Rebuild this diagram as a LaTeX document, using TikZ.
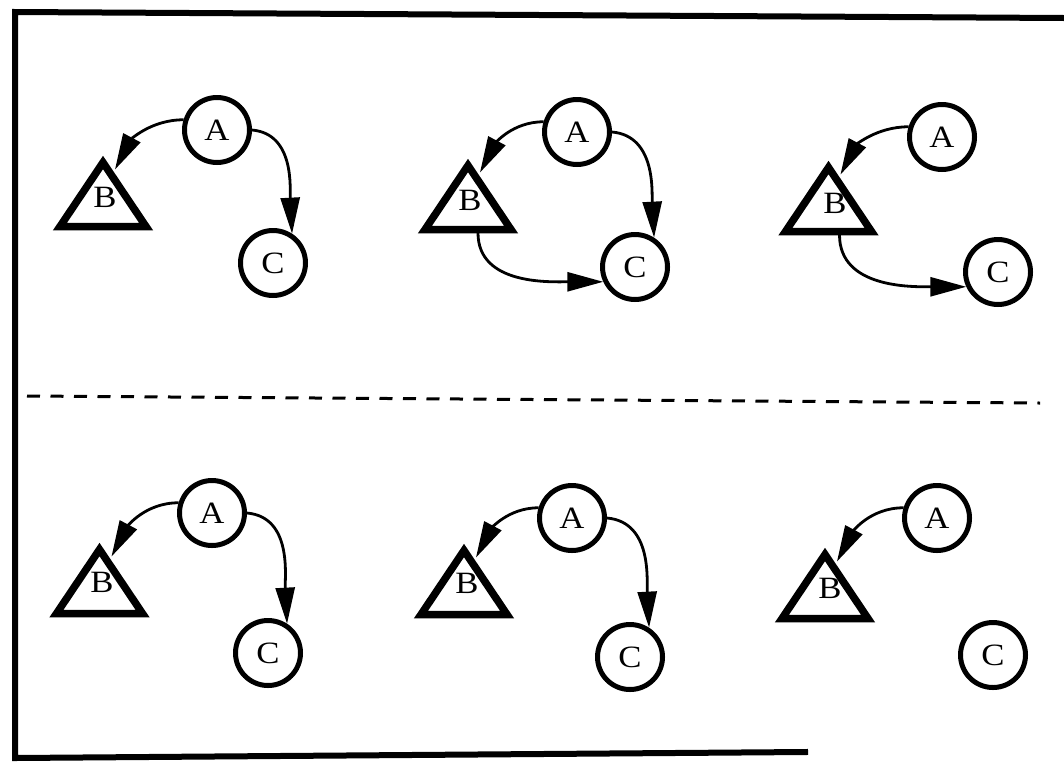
\documentclass[tikz,border=0pt]{standalone}
\usepackage{fontspec}
\newfontfamily\lblfont[FakeStretch=1.12]{Liberation Serif}
\usetikzlibrary{arrows.meta}
\tikzset{
  frameline/.style={line width=6pt, line cap=rect},
  sepline/.style={line width=3pt, dash pattern=on 13pt off 10.5pt},
  circnode/.style={circle, draw, line width=5pt, minimum size=65pt, inner sep=0pt,
    font=\lblfont\fontsize{31}{31}\selectfont},
  trilabel/.style={inner sep=0pt, font=\lblfont\fontsize{31}{31}\selectfont},
  tri/.style={line width=7.5pt, line join=miter},
  arr/.style={line width=2.8pt, -{Triangle[length=36pt, width=19pt]}},
}
\begin{document}
\begin{tikzpicture}[x=1pt, y=1pt]
\useasboundingbox (0,0) rectangle (1064,-761);
% frame
\coordinate (FtR) at (1064,-18);
\coordinate (FtL) at (15,-12);
\coordinate (FbL) at (15,-758);
\coordinate (FbR) at (805,-752);
\draw[frameline] (FtR) -- (FtL) -- (FbL) -- (FbR);
% separator
\coordinate (SL) at (27,-396);
\coordinate (SR) at (1040,-403);
\draw[sepline] (SL) -- (SR);

% ---------- panel 1
\node[circnode] (A1) at (217,-130) {A};
\node[circnode] (C1) at (273,-263) {C};
\coordinate (B1l) at (60,-226.5);
\coordinate (B1r) at (146,-226.5);
\coordinate (B1t) at (103,-162.5);
\coordinate (B1in) at (115,-169.5);
\draw[tri] (B1l) -- (B1r) -- (B1t) -- cycle;
\node[trilabel] (B1) at (105,-197) {B};
\draw[arr] (A1.163) to[out=180,in=62] (B1in);
\draw[arr] (A1.0) to[out=-5,in=93] (C1.57);

% ---------- panel 2
\node[circnode] (A2) at (577,-132) {A};
\node[circnode] (C2) at (635,-267) {C};
\coordinate (B2l) at (425,-229.5);
\coordinate (B2r) at (511,-229.5);
\coordinate (B2t) at (468,-165.5);
\coordinate (B2in) at (480,-172.5);
\coordinate (B2out) at (478,-233);
\draw[tri] (B2l) -- (B2r) -- (B2t) -- cycle;
\node[trilabel] (B2) at (470,-200) {B};
\draw[arr] (A2.163) to[out=180,in=62] (B2in);
\draw[arr] (A2.0) to[out=-5,in=93] (C2.57);
\draw[arr] (B2out) to[out=-90,in=180] (C2.205);

% ---------- panel 3
\node[circnode] (A3) at (942,-137) {A};
\node[circnode] (C3) at (998,-272) {C};
\coordinate (B3l) at (785.5,-231.5);
\coordinate (B3r) at (871.5,-231.5);
\coordinate (B3t) at (828.5,-167.5);
\coordinate (B3in) at (840.5,-174.5);
\coordinate (B3out) at (839.5,-235);
\draw[tri] (B3l) -- (B3r) -- (B3t) -- cycle;
\node[trilabel] (B3) at (835,-203) {B};
\draw[arr] (A3.163) to[out=180,in=62] (B3in);
\draw[arr] (B3out) to[out=-90,in=180] (C3.205);

% ---------- panel 4
\node[circnode] (A4) at (212,-513) {A};
\node[circnode] (C4) at (268,-653) {C};
\coordinate (B4l) at (56.5,-613.5);
\coordinate (B4r) at (142.5,-613.5);
\coordinate (B4t) at (99.5,-549.5);
\coordinate (B4in) at (111.5,-556.5);
\draw[tri] (B4l) -- (B4r) -- (B4t) -- cycle;
\node[trilabel] (B4) at (102,-582) {B};
\draw[arr] (A4.163) to[out=180,in=62] (B4in);
\draw[arr] (A4.0) to[out=-5,in=93] (C4.57);

% ---------- panel 5
\node[circnode] (A5) at (572,-518) {A};
\node[circnode] (C5) at (630,-657) {C};
\coordinate (B5l) at (421,-614.5);
\coordinate (B5r) at (507,-614.5);
\coordinate (B5t) at (464,-550.5);
\coordinate (B5in) at (476,-557.5);
\draw[tri] (B5l) -- (B5r) -- (B5t) -- cycle;
\node[trilabel] (B5) at (467,-583) {B};
\draw[arr] (A5.163) to[out=180,in=62] (B5in);
\draw[arr] (A5.0) to[out=-5,in=93] (C5.57);

% ---------- panel 6
\node[circnode] (A6) at (937,-518) {A};
\node[circnode] (C6) at (993,-655) {C};
\coordinate (B6l) at (782,-618.5);
\coordinate (B6r) at (868,-618.5);
\coordinate (B6t) at (825,-554.5);
\coordinate (B6in) at (837,-561.5);
\draw[tri] (B6l) -- (B6r) -- (B6t) -- cycle;
\node[trilabel] (B6) at (830,-588) {B};
\draw[arr] (A6.163) to[out=180,in=62] (B6in);
\end{tikzpicture}
\end{document}
